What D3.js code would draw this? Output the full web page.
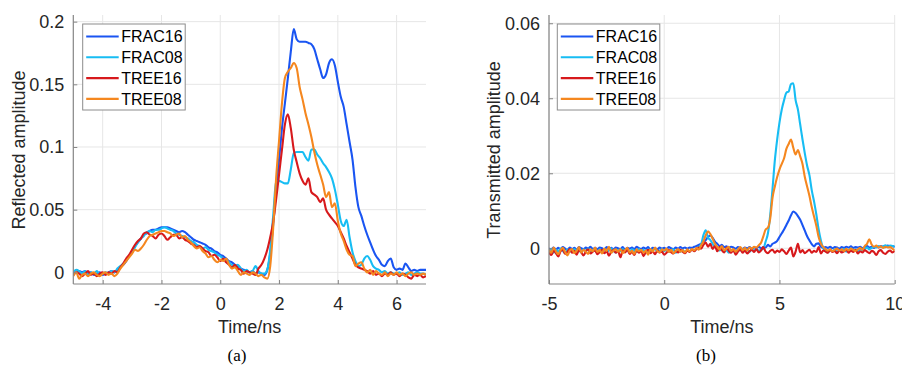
<!DOCTYPE html>
<html><head><meta charset="utf-8">
<script src="https://cdn.jsdelivr.net/npm/d3@7"></script>
<style>
body{margin:0;background:#fff}
svg{display:block}
text{font-family:"Liberation Sans",Arial,Helvetica,sans-serif}
</style>
</head><body>
<svg id="chart" width="902" height="365"></svg>
<script>
// ---------- DATA ----------
const seriesNames = ["FRAC16", "FRAC08", "TREE16", "TREE08"];
const seriesColors = ["#1a55f2", "#17bdf3", "#d7191c", "#f5871f"];

// Panel (a): reflected amplitude, time -5..7 ns, step 0.1
const timeA = d3.range(0, 121).map(i => +(-5 + i * 0.1).toFixed(1));
const reflFRAC16 = [
 -.001,.000,.001,.000,.001,-.001,.000,-.002,-.001,.000,
 -.002,-.001,.000,.001,.000,.002,.004,.006,.009,.013,
 .017,.021,.024,.027,.030,.031,.033,.034,.034,.035,
 .036,.036,.036,.035,.034,.033,.032,.033,.032,.030,
 .028,.026,.025,.024,.023,.022,.020,.019,.017,.016,
 .014,.013,.011,.009,.008,.006,.005,.003,.002,.001,
 .000,.001,-.001,.000,-.001,-.002,.002,.015,.038,.066,
 .090,.115,.135,.155,.176,.194,.186,.184,.184,.184,
 .183,.182,.178,.170,.162,.155,.158,.167,.170,.165,
 .152,.140,.132,.118,.104,.090,.068,.052,.045,.037,
 .030,.024,.018,.013,.010,.006,.005,.009,.011,.004,
 .002,.003,.002,.007,.004,.001,.002,.001,.002,.002,
 .002];
const reflFRAC08 = [
 .000,.002,.001,-.001,.001,-.002,.000,-.001,.001,-.002,
 -.001,.000,-.001,.001,.000,.003,.005,.007,.010,.013,
 .016,.020,.024,.027,.029,.032,.033,.032,.034,.034,
 .035,.036,.035,.034,.033,.031,.030,.029,.028,.027,
 .025,.024,.022,.021,.019,.020,.018,.017,.016,.014,
 .013,.011,.010,.008,.006,.005,.006,.003,.001,.002,
 .000,.001,.005,.001,-.001,-.001,.002,.018,.045,.072,
 .073,.072,.071,.071,.082,.095,.096,.096,.096,.092,
 .089,.098,.098,.094,.091,.087,.084,.080,.075,.066,
 .054,.041,.037,.042,.028,.016,.009,.005,.006,.011,
 .013,.010,.005,.003,.002,.000,.001,-.001,.000,-.001,
 -.001,.000,-.002,-.001,.000,-.002,-.001,.000,-.001,-.001,
 -.002];
const reflTREE16 = [
 -.002,.000,-.001,-.003,-.001,.001,-.002,-.001,-.003,-.001,
 .000,-.002,.000,-.001,.001,.000,.004,.007,.011,.014,
 .018,.022,.025,.027,.031,.032,.030,.029,.027,.030,
 .031,.029,.026,.028,.030,.030,.027,.028,.026,.025,
 .023,.022,.020,.021,.019,.017,.016,.013,.014,.012,
 .009,.011,.008,.006,.004,.006,.003,.002,-.001,.001,
 .000,-.001,-.002,.003,.006,.011,.018,.028,.040,.058,
 .078,.098,.118,.126,.115,.098,.088,.079,.073,.070,
 .075,.064,.062,.060,.056,.059,.050,.046,.043,.040,
 .037,.032,.027,.021,.016,.011,.006,.004,.003,.002,
 .001,-.001,.001,-.002,-.001,-.003,-.001,-.002,.000,-.002,
 -.001,-.003,-.001,-.002,-.004,-.005,-.002,-.003,-.002,-.004,
 -.003];
const reflTREE08 = [
 -.003,.000,-.005,-.002,-.001,-.003,-.001,.000,-.002,-.003,
 -.001,.000,-.002,-.001,-.003,-.001,.003,.006,.009,.012,
 .015,.018,.017,.019,.022,.026,.029,.030,.031,.032,
 .033,.033,.032,.031,.029,.030,.031,.028,.029,.026,
 .024,.021,.019,.020,.017,.015,.012,.013,.010,.008,
 .010,.009,.011,.006,.003,.004,.001,-.002,.000,-.001,
 -.002,.000,-.001,-.003,-.002,-.004,-.005,.005,.035,.075,
 .105,.135,.155,.160,.163,.167,.163,.148,.138,.127,
 .118,.108,.096,.086,.078,.070,.060,.064,.052,.055,
 .041,.031,.025,.018,.014,.013,.005,.007,.008,.003,
 .000,.002,-.002,.001,-.001,-.002,.000,-.003,-.001,-.002,
 .000,-.002,-.001,-.003,-.001,.000,-.002,-.001,-.002,-.001,
 -.002];

// Panel (b): transmitted amplitude, time -5..10 ns, step 0.1
const timeB = d3.range(0, 151).map(i => +(-5 + i * 0.1).toFixed(1));
const tranFRAC16 = [
 0,-.0003,.0002,-.0004,.0001,-.0002,.0003,-.0001,-.0005,.0002,
 -.0002,.0001,-.0004,.0003,0,-.0003,.0002,-.0001,.0004,-.0002,
 .0001,-.0003,.0002,0,-.0004,.0003,-.0002,.0001,-.0003,.0002,
 0,-.0002,.0003,-.0004,.0001,-.0001,.0002,-.0003,.0004,0,
 -.0002,.0002,-.0001,.0003,-.0004,.0001,0,-.0003,.0002,-.0001,
 .0001,-.0002,.0003,0,-.0003,.0002,-.0001,.0003,0,.0002,
 -.0001,.0002,.0001,.0004,.0006,.0009,.0012,.0016,.0022,.0030,
 .0034,.0028,.0018,.0012,.0006,.0009,.0003,.0005,.0001,.0004,
 .0002,-.0001,.0003,.0001,-.0002,.0002,0,.0003,-.0001,.0002,
 .0001,.0004,0,.0003,.0002,.0009,.0005,.0012,.0015,.0020,
 .0030,.0040,.0050,.0062,.0074,.0088,.0098,.0094,.0086,.0076,
 .0062,.0047,.0032,.0021,.0011,.0005,.0012,.0013,.0004,.0001,
 .0003,.0001,.0004,0,.0003,.0002,-.0001,.0003,.0001,.0004,
 .0002,.0005,.0001,.0003,.0002,.0004,0,.0003,.0006,.0002,
 .0004,.0001,.0005,.0002,.0006,.0004,.0003,.0007,.0005,.0006,
 .0003];
const tranFRAC08 = [
 -.0008,-.0002,-.0012,-.0004,-.0009,-.0001,-.0007,-.0013,-.0003,-.0006,
 -.0010,-.0002,-.0008,-.0005,-.0011,-.0003,-.0007,-.0001,-.0009,-.0004,
 -.0006,-.0012,-.0003,-.0008,-.0002,-.0010,-.0005,-.0001,-.0007,-.0011,
 -.0004,-.0008,-.0002,-.0009,-.0005,-.0012,-.0003,-.0006,-.0010,-.0002,
 -.0007,-.0004,-.0011,-.0003,-.0008,-.0005,-.0001,-.0009,-.0006,-.0003,
 -.0008,-.0002,-.0010,-.0005,-.0003,-.0012,-.0006,-.0009,-.0004,-.0011,
 -.0005,-.0008,-.0003,-.0006,-.0001,.0004,.0010,.0035,.0048,.0028,
 .0022,.0012,.0004,-.0002,-.0006,-.0003,-.0009,-.0005,-.0012,-.0004,
 -.0007,-.0011,-.0003,-.0006,-.0002,-.0008,-.0004,-.0010,-.0003,-.0006,
 -.0002,-.0007,-.0004,-.0001,.0018,.0040,.0090,.0160,.0235,.0290,
 .0335,.0370,.0395,.0415,.0418,.0438,.0440,.0395,.0370,.0330,
 .0290,.0253,.0220,.0195,.0155,.0125,.0090,.0050,.0020,.0000,
 -.0006,-.0011,-.0004,-.0008,-.0003,-.0010,-.0005,-.0007,-.0002,-.0009,
 -.0004,-.0001,-.0006,-.0003,-.0008,-.0002,-.0005,-.0001,.0002,-.0003,
 .0001,.0004,.0002,.0006,.0003,.0005,.0008,.0004,.0007,.0006,
 .0005];
const tranTREE16 = [
 -.0010,-.0018,-.0006,-.0013,-.0022,-.0008,-.0004,-.0015,-.0009,-.0002,
 -.0012,-.0007,-.0017,-.0005,-.0011,-.0019,-.0008,-.0003,-.0014,-.0009,
 -.0006,-.0016,-.0010,-.0004,-.0013,-.0007,-.0020,-.0009,-.0005,-.0012,
 -.0008,-.0024,-.0006,-.0011,-.0003,-.0015,-.0009,-.0018,-.0005,-.0012,
 -.0007,-.0021,-.0010,-.0004,-.0013,-.0008,-.0016,-.0006,-.0011,-.0009,
 -.0017,-.0012,-.0005,-.0010,-.0014,-.0007,-.0011,-.0004,-.0009,-.0013,
 -.0006,-.0010,-.0003,-.0008,-.0002,.0002,-.0001,.0009,.0015,.0004,
 .0012,-.0002,.0006,-.0008,.0004,-.0005,-.0011,.0002,-.0007,-.0012,
 -.0005,-.0017,-.0009,-.0003,-.0012,-.0006,-.0014,-.0008,-.0004,-.0010,
 -.0002,-.0011,-.0006,.0003,-.0009,-.0013,-.0007,-.0004,-.0012,-.0006,
 -.0010,-.0003,-.0008,-.0015,-.0006,.0002,-.0022,-.0009,.0012,-.0011,
 -.0005,-.0013,-.0008,-.0004,-.0012,-.0007,-.0010,.0003,-.0014,-.0006,
 -.0009,-.0012,-.0004,-.0010,-.0007,-.0013,-.0005,-.0011,-.0008,-.0003,
 -.0012,-.0006,-.0010,-.0004,-.0014,-.0008,-.0011,-.0005,-.0009,-.0013,
 -.0007,-.0010,-.0018,-.0008,-.0005,-.0012,-.0015,-.0009,-.0006,-.0011,
 -.0007];
const tranTREE08 = [
 -.0004,-.0012,.0002,-.0008,-.0016,-.0005,.0001,-.0010,-.0019,-.0006,
 -.0002,-.0013,-.0007,.0003,-.0011,-.0004,-.0009,-.0015,-.0003,-.0008,
 .0002,-.0010,-.0005,-.0014,-.0001,-.0007,.0004,-.0012,-.0006,-.0003,
 -.0009,-.0002,-.0013,-.0005,.0001,-.0011,-.0007,-.0015,-.0003,-.0008,
 -.0004,-.0012,-.0006,-.0017,-.0002,-.0009,.0002,-.0007,-.0011,-.0003,
 -.0006,-.0001,-.0010,-.0004,-.0013,-.0007,-.0002,-.0009,-.0005,-.0011,
 -.0003,-.0008,-.0002,-.0006,.0001,-.0004,.0008,.0018,.0035,.0045,
 .0038,.0026,.0012,.0004,-.0003,.0006,-.0005,-.0001,.0004,-.0007,
 -.0002,-.0009,-.0003,.0003,-.0005,.0001,-.0006,.0002,-.0001,.0004,
 .0002,.0008,.0015,.0032,.0050,.0055,.0080,.0135,.0165,.0190,
 .0210,.0225,.0240,.0265,.0278,.0290,.0268,.0250,.0262,.0245,
 .0225,.0190,.0165,.0140,.0110,.0085,.0060,.0030,.0012,.0003,
 -.0002,-.0006,-.0003,-.0008,-.0004,-.0001,-.0006,-.0003,-.0007,-.0002,
 -.0005,-.0001,-.0004,-.0007,-.0003,.0001,-.0004,.0006,.0012,.0024,
 .0010,.0004,.0007,.0002,.0005,.0001,.0004,.0002,.0003,-.0001,
 -.0006];

const ticksAx = [-4, -2, 0, 2, 4, 6];
const tickLabelsAx = ["-4", "-2", "0", "2", "4", "6"];
const ticksAy = [0, 0.05, 0.1, 0.15, 0.2];
const tickLabelsAy = ["0", "0.05", "0.1", "0.15", "0.2"];
const ticksBx = [-5, 0, 5, 10];
const tickLabelsBx = ["-5", "0", "5", "10"];
const ticksBy = [0, 0.02, 0.04, 0.06];
const tickLabelsBy = ["0", "0.02", "0.04", "0.06"];

// ---------- DRAW ----------
const svg = d3.select("#chart");
const axisColor = "#858585";
const gridColor = "#e6e6e6";
const textColor = "#262626";

function panel(cfg) {
  const x = d3.scaleLinear().domain(cfg.xDomain).range([cfg.left, cfg.right]);
  const y = d3.scaleLinear().domain(cfg.yDomain).range([cfg.bottom, cfg.top]);
  const g = svg.append("g");
  const clipId = "clip" + cfg.id;
  svg.append("clipPath").attr("id", clipId).append("rect")
    .attr("x", cfg.left).attr("y", cfg.top)
    .attr("width", cfg.right - cfg.left).attr("height", cfg.bottom - cfg.top);

  // grid
  g.selectAll(".gx").data(cfg.xTicks).join("line")
    .attr("x1", d => x(d)).attr("x2", d => x(d))
    .attr("y1", cfg.top).attr("y2", cfg.bottom)
    .attr("stroke", gridColor).attr("stroke-width", 1);
  g.selectAll(".gy").data(cfg.yTicks).join("line")
    .attr("x1", cfg.left).attr("x2", cfg.right)
    .attr("y1", d => y(d)).attr("y2", d => y(d))
    .attr("stroke", gridColor).attr("stroke-width", 1);

  // lines
  const line = d3.line().x(d => x(d[0])).y(d => y(d[1])).curve(d3.curveMonotoneX);
  const lg = g.append("g").attr("clip-path", `url(#${clipId})`);
  cfg.series.forEach((vals, i) => {
    const pts = cfg.time.map((t, j) => [t, vals[j]]);
    lg.append("path").datum(pts).attr("d", line)
      .attr("fill", "none").attr("stroke", seriesColors[i])
      .attr("stroke-width", 2.1).attr("stroke-linejoin", "round");
  });

  // axes (inward ticks)
  const xAxis = d3.axisBottom(x).tickValues(cfg.xTicks).tickSizeInner(-4).tickSizeOuter(0)
    .tickFormat((d, i) => cfg.xTickLabels[i]).tickPadding(10);
  const ax = g.append("g").attr("transform", `translate(0,${cfg.bottom})`).call(xAxis);
  const yAxis = d3.axisLeft(y).tickValues(cfg.yTicks).tickSizeInner(-4).tickSizeOuter(0)
    .tickFormat((d, i) => cfg.yTickLabels[i]).tickPadding(9);
  const ay = g.append("g").attr("transform", `translate(${cfg.left},0)`).call(yAxis);
  [ax, ay].forEach(a => {
    a.select(".domain").attr("stroke", axisColor).attr("stroke-width", 1.2);
    a.selectAll(".tick line").attr("stroke", axisColor);
    a.selectAll(".tick text").attr("fill", textColor).style("font-size", "18px")
      .style("font-family", '"Liberation Sans",Arial,sans-serif');
  });
  ax.selectAll(".tick text").attr("dy", "0.9em");
  ax.select(".domain").attr("d", `M${cfg.left},0H${cfg.right}`);
  ay.select(".domain").attr("d", `M0,${cfg.bottom}V${cfg.top}`);

  // labels
  g.append("text").attr("x", (cfg.left + cfg.right) / 2).attr("y", 333)
    .attr("text-anchor", "middle").attr("fill", textColor).style("font-size", "18px")
    .text("Time/ns");
  g.append("text").attr("transform", `translate(${cfg.yLabelX},${cfg.yLabelY}) rotate(-90)`)
    .attr("text-anchor", "middle").attr("fill", textColor).style("font-size", "18px")
    .text(cfg.yLabel);
  g.append("text").attr("x", cfg.captionX).attr("y", 361)
    .attr("text-anchor", "middle").attr("fill", "#000")
    .style("font-family", '"Liberation Serif","Times New Roman",serif').style("font-size", "17px")
    .text(cfg.caption);

  // legend
  const lx = cfg.left + cfg.legendDx, ly = 24, lw = 102.5, lh = 86;
  const leg = g.append("g");
  leg.append("rect").attr("x", lx).attr("y", ly).attr("width", lw).attr("height", lh)
    .attr("fill", "#fff").attr("stroke", "#8c8c8c").attr("stroke-width", 1);
  seriesNames.forEach((name, i) => {
    const yy = ly + 12.5 + i * 20.8;
    leg.append("line").attr("x1", lx + 3.5).attr("x2", lx + 36).attr("y1", yy).attr("y2", yy)
      .attr("stroke", seriesColors[i]).attr("stroke-width", 2.1);
    leg.append("text").attr("x", lx + 38.5).attr("y", yy).attr("dy", "0.36em")
      .attr("fill", "#000").style("font-size", "16px").text(name);
  });
}

panel({
  id: "a", left: 73.3, right: 426, top: 15, bottom: 284,
  xDomain: [-5, 7], yDomain: [-0.0093, 0.2053],
  xTicks: ticksAx, xTickLabels: tickLabelsAx, yTicks: ticksAy, yTickLabels: tickLabelsAy,
  time: timeA, series: [reflFRAC16, reflFRAC08, reflTREE16, reflTREE08],
  yLabel: "Reflected amplitude", yLabelX: 25, yLabelY: 150,
  caption: "(a)", captionX: 237, legendDx: 9.4
});
panel({
  id: "b", left: 549, right: 894.7, top: 15, bottom: 284,
  xDomain: [-5, 10], yDomain: [-0.00952, 0.0622],
  xTicks: ticksBx, xTickLabels: tickLabelsBx, yTicks: ticksBy, yTickLabels: tickLabelsBy,
  time: timeB, series: [tranFRAC16, tranFRAC08, tranTREE16, tranTREE08],
  yLabel: "Transmitted amplitude", yLabelX: 500, yLabelY: 150,
  caption: "(b)", captionX: 706, legendDx: 8.3
});
</script>
</body></html>
